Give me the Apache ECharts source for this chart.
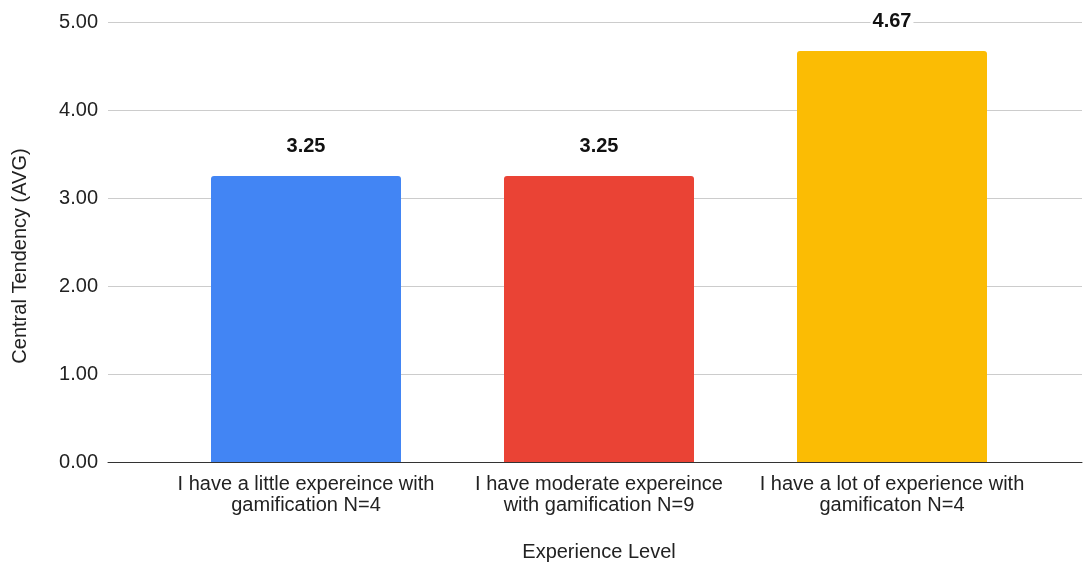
<!DOCTYPE html>
<html>
<head>
<meta charset="utf-8">
<script src="https://cdn.jsdelivr.net/npm/echarts@6/dist/echarts.min.js"></script>
<style>html,body{margin:0;padding:0;background:#fff}#c{width:1083px;height:564px}</style>
</head>
<body>
<div id="c"></div>
<script>
const categories = [
  "I have a little expereince with\ngamification N=4",
  "I have moderate expereince\nwith gamification N=9",
  "I have a lot of experience with\ngamificaton N=4"
];
const values = [3.25, 3.25, 4.67];
const barColors = ["#4285F4", "#EA4335", "#FBBC04"];
const yTicks = { min: 0, max: 5, interval: 1 };
const xTitle = "Experience Level";
const yTitle = "Central Tendency (AVG)";

const font = "Arial, 'Liberation Sans', sans-serif";
const chart = echarts.init(document.getElementById('c'), null, { renderer: 'canvas' });
chart.setOption({
  animation: false,
  backgroundColor: '#fff',
  grid: [
    { left: 108, right: 1, top: 22, bottom: 102, containLabel: false, outerBoundsMode: 'none' },
    { left: 159.5, right: 44.5, top: 22, bottom: 102, containLabel: false, outerBoundsMode: 'none' }
  ],
  xAxis: [
    { gridIndex: 0, type: 'category', data: categories, axisLabel: { show: false }, axisTick: { show: false },
      axisLine: { lineStyle: { color: '#333', width: 1 } }, splitLine: { show: false }, z: 5 },
    { gridIndex: 1, type: 'category', data: categories, axisTick: { show: false }, axisLine: { show: false },
      axisLabel: { color: '#222', fontSize: 20, fontFamily: font, lineHeight: 21, margin: 12, interval: 0 },
      name: xTitle, nameLocation: 'middle', nameGap: 80,
      nameTextStyle: { color: '#222', fontSize: 20, fontFamily: font } }
  ],
  yAxis: [
    { gridIndex: 0, type: 'value', min: yTicks.min, max: yTicks.max, interval: yTicks.interval,
      axisLine: { show: false }, axisTick: { show: false },
      axisLabel: { color: '#222', fontSize: 20, fontFamily: font, margin: 10, formatter: v => v.toFixed(2) },
      splitLine: { lineStyle: { color: '#cccccc', width: 1 } },
      name: yTitle, nameLocation: 'middle', nameGap: 78,
      nameTextStyle: { color: '#222', fontSize: 20, fontFamily: font, padding: [0, 28, 0, 0] } },
    { gridIndex: 1, type: 'value', min: yTicks.min, max: yTicks.max, interval: yTicks.interval, show: false,
      splitLine: { show: false } }
  ],
  series: [{
    type: 'bar', xAxisIndex: 1, yAxisIndex: 1, barWidth: 190,
    data: values.map((v, i) => ({ value: v, itemStyle: { color: barColors[i], borderRadius: [3, 3, 0, 0] } })),
    label: { show: true, position: 'top', distance: 20, color: '#111', fontWeight: 'bold', fontSize: 20,
      fontFamily: font, backgroundColor: '#fff', padding: [0, 2], formatter: p => p.value.toFixed(2) },
    z: 3
  }]
});
</script>
</body>
</html>
